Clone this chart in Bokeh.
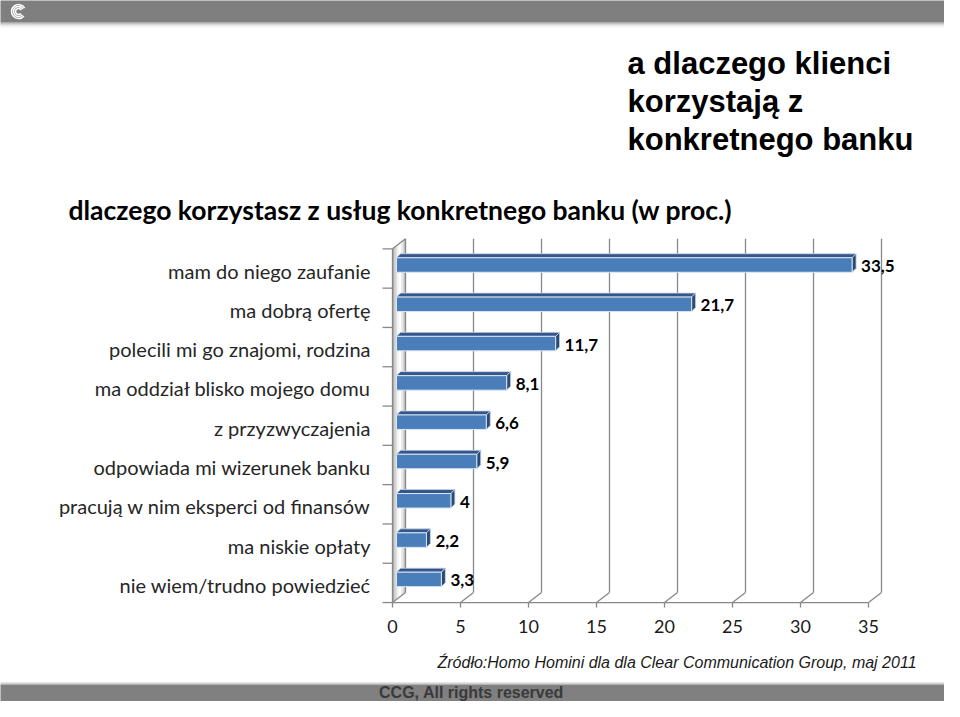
from bokeh.plotting import figure
from bokeh.models import Range1d
from bokeh.core.properties import value
from bokeh.embed import file_html
from bokeh.resources import INLINE

# ---------------- data ----------------
categories = [
    "mam do niego zaufanie",
    "ma dobrą ofertę",
    "polecili mi go znajomi, rodzina",
    "ma oddział blisko mojego domu",
    "z przyzwyczajenia",
    "odpowiada mi wizerunek banku",
    "pracują w nim eksperci od finansów",
    "ma niskie opłaty",
    "nie wiem/trudno powiedzieć",
]
values = [33.5, 21.7, 11.7, 8.1, 6.6, 5.9, 4, 2.2, 3.3]
ticks = [0, 5, 10, 15, 20, 25, 30, 35]
tick_labels = ["0", "5", "10", "15", "20", "25", "30", "35"]
value_labels = [f"{v:g}".replace(".", ",") for v in values]

title_main = "dlaczego korzystasz z usług konkretnego banku (w proc.)"
title_side = ["a dlaczego klienci", "korzystają z", "konkretnego banku"]
source_note = "Źródło:Homo Homini dla dla Clear Communication Group, maj 2011"
footer = "CCG, All rights reserved"

# ---------------- geometry (pixel -> data) ----------------
W, H = 944, 701
XS = 13.6      # px per value unit
X0 = 392.0     # px of value 0 (front plane)
RS = 39.3      # px per category row
R0 = 268.0     # px of first row centre (front plane)


def ux(px):
    return (px - X0) / XS


def uy(py):
    return (py - R0) / RS


p = figure(width=W, height=H,
           x_range=Range1d(ux(0), ux(W)),
           y_range=Range1d(uy(H), uy(0)),
           output_backend="svg", toolbar_location=None,
           x_axis_type=None, y_axis_type=None, min_border=0)
p.outline_line_color = None
p.background_fill_color = "white"
p.border_fill_color = "white"

# ---------------- page decoration ----------------
xl, xr = ux(-5), ux(W + 5)
p.quad(left=xl, right=xr, top=uy(-5), bottom=uy(22), fill_color="#7f7f7f", line_color=None)
grad = ["#9a9a9a", "#b8b8b8", "#d2d2d2", "#e6e6e6", "#f4f4f4"]
for k, c in enumerate(grad):
    p.quad(left=xl, right=xr, top=uy(22 + k), bottom=uy(23 + k), fill_color=c, line_color=None)
for r in [7, 5, 3]:
    p.arc(x=ux(18), y=uy(11), radius=r, radius_units="screen", start_angle=0.5, end_angle=5.6,
          line_color="white", line_width=1.6)

p.quad(left=xl, right=xr, top=uy(682), bottom=uy(684), fill_color="#d0d0d0", line_color=None)
p.quad(left=xl, right=xr, top=uy(684), bottom=uy(H + 5), fill_color="#808080", line_color=None)
p.text(x=[ux(471)], y=[uy(692)], text=[footer], text_align="center", text_baseline="middle",
       text_font=value("Liberation Sans"), text_font_style="bold", text_font_size="16px",
       text_color="#3a3a3a")

# ---------------- titles ----------------
for k, line in enumerate(title_side):
    p.text(x=[ux(627)], y=[uy(63 + 38 * k)], text=[line], text_align="left", text_baseline="middle",
           text_font=value("Liberation Sans"), text_font_style="bold", text_font_size="31px",
           text_color="black")
p.text(x=[ux(68)], y=[uy(209)], text=[title_main], text_align="left", text_baseline="middle",
       text_font=value("Lato"), text_font_style="bold", text_font_size="26.5px", text_color="black")
p.text(x=[ux(437)], y=[uy(662)], text=[source_note], text_align="left", text_baseline="middle",
       text_font=value("Liberation Sans"), text_font_style="italic", text_font_size="16px",
       text_color="#1a1a1a")

# ---------------- 3D frame ----------------
DX = 13 / XS          # wall depth in x
DYp = 10              # wall depth in px (upwards)
n = len(categories)
y_top_front = uy(R0 - RS / 2)
y_bot_front = uy(R0 + RS * (n - 0.5))
grid_col = "#888888"

# left wall with gradient slices
wall_cols = ["#b0b0b0", "#d4d4d4", "#f4f4f4", "#ffffff", "#e8e8e8", "#c8c8c8"]
ns = len(wall_cols)
for k, c in enumerate(wall_cols):
    a, b = k / ns, (k + 1) / ns
    xs = [a * DX, b * DX, b * DX, a * DX]
    ys = [y_top_front - a * DYp / RS, y_top_front - b * DYp / RS,
          y_bot_front - b * DYp / RS, y_bot_front - a * DYp / RS]
    p.patch(x=xs, y=ys, fill_color=c, line_color=None)
# wall outline
p.line(x=[0, 0], y=[y_top_front, y_bot_front], line_color=grid_col, line_width=1.3)
p.line(x=[0, DX], y=[y_top_front, y_top_front - DYp / RS], line_color=grid_col, line_width=1.3)

# back vertical gridlines, floor diagonals, tick marks
for t in ticks:
    p.line(x=[t + DX, t + DX], y=[y_bot_front - DYp / RS, y_top_front - DYp / RS],
           line_color=grid_col, line_width=1.3)
    p.line(x=[t, t + DX], y=[y_bot_front, y_bot_front - DYp / RS], line_color=grid_col, line_width=1.3)
    p.line(x=[t, t], y=[y_bot_front, y_bot_front + 5 / RS], line_color=grid_col, line_width=1.3)
# front floor line
p.line(x=[ticks[0], ticks[-1]], y=[y_bot_front, y_bot_front], line_color=grid_col, line_width=1.3)
# category ticks on the left
for j in range(n + 1):
    yy = y_top_front + j
    p.line(x=[0, ux(382)], y=[yy, yy], line_color=grid_col, line_width=1.3)

# tick labels
p.text(x=ticks, y=[uy(626)] * len(ticks), text=tick_labels, text_align="center", text_baseline="middle",
       text_font=value("Lato"), text_font_size="18px", text_color="#1a1a1a")

# category labels
p.text(x=[ux(370)] * n, y=[i + 2 / RS for i in range(n)], text=categories, text_align="right",
       text_baseline="middle", text_font=value("Lato"), text_font_size="20px", text_color="#262626")

# ---------------- bars ----------------
sx, sy = 4 / XS, -3.5 / RS          # bar front-face shift (mid depth)
bdx, bdy = 4 / XS, 4 / RS           # bar depth
hh = 7.25 / RS                      # half height of bar front
for i, v in enumerate(values):
    yc = i + sy
    L, Rr = 0 + sx, v + sx
    T, B = yc - hh, yc + hh
    # top face
    p.patch(x=[L, Rr, Rr + bdx, L + bdx], y=[T, T, T - bdy, T - bdy],
            fill_color="#34568a", line_color="#c9d7ea", line_width=0.8)
    # side face
    p.patch(x=[Rr, Rr + bdx, Rr + bdx, Rr], y=[T, T - bdy, B - bdy, B],
            fill_color="#2a4a78", line_color="#c9d7ea", line_width=0.8)
    # front face
    p.quad(left=L, right=Rr, top=T, bottom=B, fill_color="#4a7ebb", line_color="#dce6f2", line_width=1)

# value labels
p.text(x=[v + sx + bdx + 5 / XS for v in values], y=[i + sy + 1 / RS for i in range(n)], text=value_labels,
       text_align="left", text_baseline="middle", text_font=value("Lato"), text_font_style="bold",
       text_font_size="17px", text_color="black")

open("out.html", "w").write(file_html(p, INLINE))
